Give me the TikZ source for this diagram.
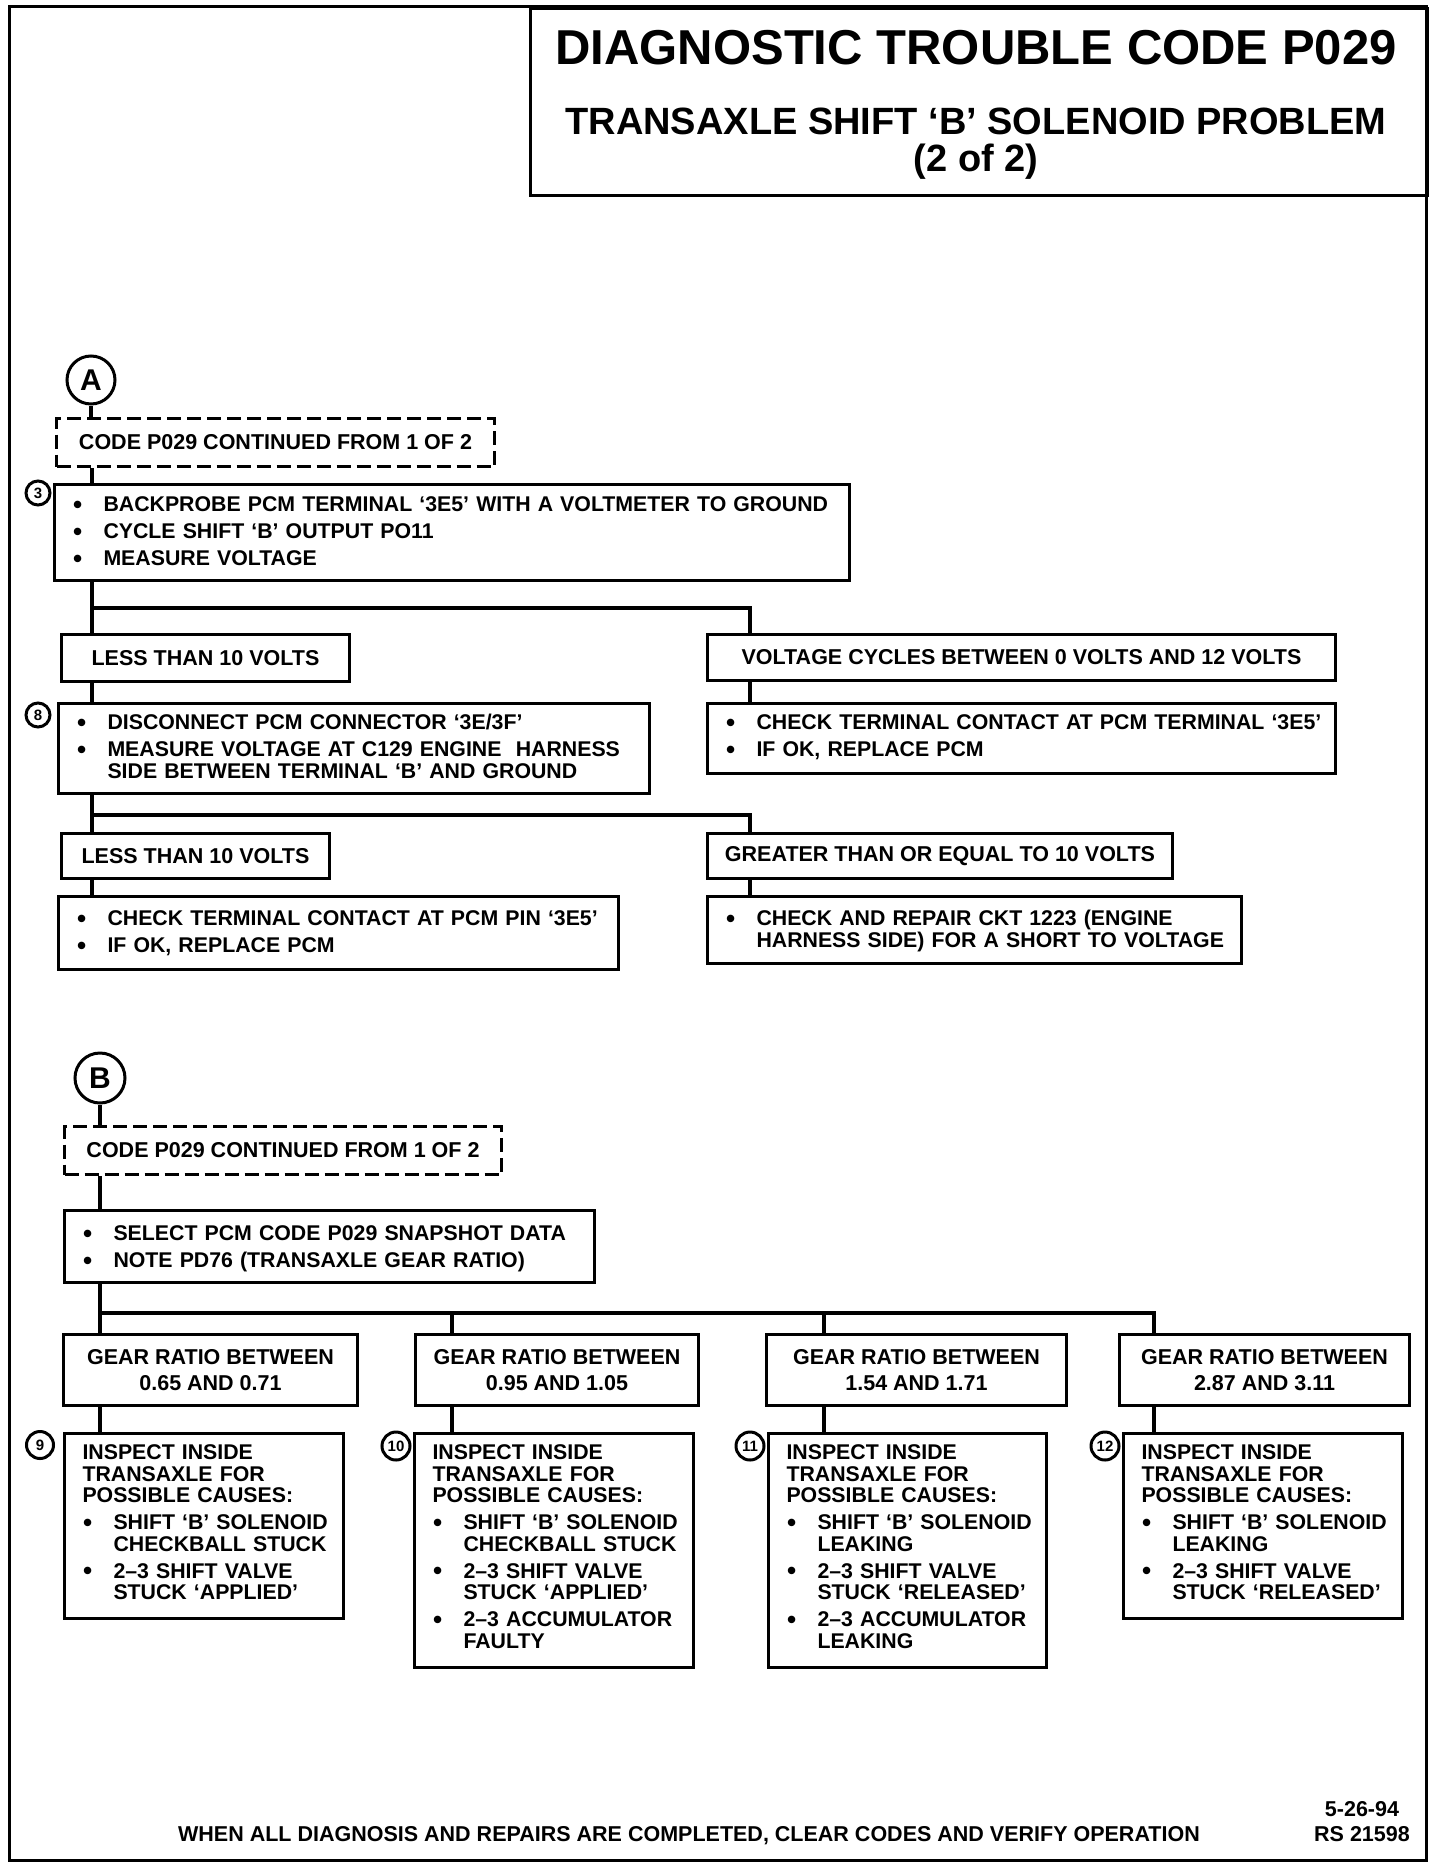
\documentclass[tikz,border=0pt]{standalone}
\usepackage{graphicx}
\usepackage{fontspec}
\setmainfont{Liberation Sans}
\newcommand{\bigbul}{\raisebox{-1.7pt}{\fontsize{26pt}{26pt}\selectfont\textbullet}}
\newcommand{\bul}[1]{\hangindent=31pt\hangafter=1\noindent\makebox[31pt][l]{\hspace{0.5pt}\bigbul}#1\par}
\begin{document}
\begin{tikzpicture}[x=1pt,y=-1pt,
  txt/.style={font=\fontsize{21.5pt}{21.5pt}\selectfont\bfseries},
  box/.style={txt, draw, line width=3pt, anchor=north west, inner sep=0pt, align=center},
  lbox/.style={box, align=left, inner xsep=18pt, inner ysep=0pt, font=\fontsize{21.3pt}{21.5pt}\selectfont\bfseries\setlength{\parskip}{5.5pt}\setlength{\parindent}{0pt}},
  dbox/.style={box, dash pattern=on 14pt off 6pt},
  conn/.style={line width=4pt},
  big/.style={circle, draw, line width=3pt, inner sep=0pt, minimum size=48pt, font=\fontsize{30pt}{30pt}\selectfont\bfseries},
  num/.style={circle, draw, line width=3pt, inner sep=0pt, minimum size=24pt, font=\fontsize{15pt}{15pt}\selectfont\bfseries},
  ttl/.style={anchor=base, font=\fontsize{49pt}{49pt}\selectfont\bfseries},
  sttl/.style={anchor=base, font=\fontsize{38pt}{38pt}\selectfont\bfseries},
]
\useasboundingbox (0,0) rectangle (1440,1870);
\draw[line width=3pt] (9,7) rectangle (1426,1860);

% title
\node[draw, line width=3pt, anchor=north west, minimum width=897pt, minimum height=187pt, inner sep=0pt] (tbox) at (529,7) {};
\node[ttl] (t1) at (976,65) {DIAGNOSTIC TROUBLE CODE P029};
\node[sttl] (t2) at (976,135) {TRANSAXLE SHIFT ‘B’ SOLENOID PROBLEM};
\node[sttl] (t3) at (976,172) {(2 of 2)};

% section A
\node[big] (cA) at (91,380) {A};
\node[dbox, minimum width=438pt, minimum height=48pt] (dA) at (55,417) {CODE P029 CONTINUED FROM 1 OF 2};
\node[lbox, text width=759pt, text height=27pt, text depth=69pt] (b3) at (53,483)
  {\bul{\mbox{BACKPROBE PCM TERMINAL ‘3E5’ WITH A VOLTMETER TO GROUND}}\bul{\mbox{CYCLE SHIFT ‘B’ OUTPUT PO11}}\bul{\mbox{MEASURE VOLTAGE}}};
\node[num] (n3) at (38,493) {3};
\node[box, minimum width=288pt, minimum height=47pt] (L1) at (60,633) {LESS THAN 10 VOLTS};
\node[box, minimum width=628pt, minimum height=46pt] (R1) at (706,633) {VOLTAGE CYCLES BETWEEN 0 VOLTS AND 12 VOLTS};
\node[lbox, text width=555pt, text height=26pt, text depth=64pt] (b8) at (57,702)
  {\bul{\mbox{DISCONNECT PCM CONNECTOR ‘3E/3F’}}\bul{\mbox{MEASURE VOLTAGE AT C129 ENGINE\ \ HARNESS}\newline\mbox{SIDE BETWEEN TERMINAL ‘B’ AND GROUND}}};
\node[num] (n8) at (38,715) {8};
\node[lbox, text width=592pt, text height=26pt, text depth=44pt] (R2) at (706,702)
  {\bul{\mbox{CHECK TERMINAL CONTACT AT PCM TERMINAL ‘3E5’}}\bul{\mbox{IF OK, REPLACE PCM}}};
\node[box, minimum width=268pt, minimum height=45pt] (L3) at (60,832) {LESS THAN 10 VOLTS};
\node[box, minimum width=465pt, minimum height=45pt] (R3) at (706,832) {GREATER THAN OR EQUAL TO 10 VOLTS};
\node[lbox, text width=524pt, text height=29pt, text depth=44pt] (L4) at (57,895)
  {\bul{\mbox{CHECK TERMINAL CONTACT AT PCM PIN ‘3E5’}}\bul{\mbox{IF OK, REPLACE PCM}}};
\node[lbox, text width=498pt, text height=29pt, text depth=38pt] (R4) at (706,895)
  {\bul{\mbox{CHECK AND REPAIR CKT 1223 (ENGINE}\newline\mbox{HARNESS SIDE) FOR A SHORT TO VOLTAGE}}};

\coordinate (ta) at (92,0);
\coordinate (tr) at (750,0);
\coordinate (j1) at (92,608);
\coordinate (j2) at (92,815);
\draw[conn] (cA.south) -- (cA.south |- dA.north);
\draw[conn] (dA.south -| ta) -- (b3.north -| ta);
\draw[conn] (b3.south -| ta) -- (L1.north -| ta);
\draw[conn] (j1) -| (R1.north -| tr);
\draw[conn] (L1.south -| ta) -- (b8.north -| ta);
\draw[conn] (R1.south -| tr) -- (R2.north -| tr);
\draw[conn] (b8.south -| ta) -- (L3.north -| ta);
\draw[conn] (j2) -| (R3.north -| tr);
\draw[conn] (L3.south -| ta) -- (L4.north -| ta);
\draw[conn] (R3.south -| tr) -- (R4.north -| tr);

% section B
\node[big, minimum size=50pt] (cB) at (100,1078) {B};
\node[dbox, minimum width=437pt, minimum height=48pt] (dB) at (63,1125) {CODE P029 CONTINUED FROM 1 OF 2};
\node[lbox, text width=494pt, text height=30pt, text depth=42pt] (SEL) at (63,1209)
  {\bul{\mbox{SELECT PCM CODE P029 SNAPSHOT DATA}}\bul{\mbox{NOTE PD76 (TRANSAXLE GEAR RATIO)}}};
\node[box, minimum width=294pt, minimum height=71pt] (G1) at (62,1333) {GEAR RATIO BETWEEN\\[4pt]0.65 AND 0.71};
\node[box, minimum width=283pt, minimum height=71pt] (G2) at (414,1333) {GEAR RATIO BETWEEN\\[4pt]0.95 AND 1.05};
\node[box, minimum width=300pt, minimum height=71pt] (G3) at (765,1333) {GEAR RATIO BETWEEN\\[4pt]1.54 AND 1.71};
\node[box, minimum width=290pt, minimum height=71pt] (G4) at (1118,1333) {GEAR RATIO BETWEEN\\[4pt]2.87 AND 3.11};

\node[lbox, text width=243pt, text height=26pt, text depth=159pt] (I9) at (63,1432)
  {\mbox{INSPECT INSIDE}\newline\mbox{TRANSAXLE FOR}\newline\mbox{POSSIBLE CAUSES:}\par
   \bul{\mbox{SHIFT ‘B’ SOLENOID}\newline\mbox{CHECKBALL STUCK}}%
   \bul{\mbox{2–3 SHIFT VALVE}\newline\mbox{STUCK ‘APPLIED’}}};
\node[lbox, text width=243pt, text height=26pt, text depth=208pt] (I10) at (413,1432)
  {\mbox{INSPECT INSIDE}\newline\mbox{TRANSAXLE FOR}\newline\mbox{POSSIBLE CAUSES:}\par
   \bul{\mbox{SHIFT ‘B’ SOLENOID}\newline\mbox{CHECKBALL STUCK}}%
   \bul{\mbox{2–3 SHIFT VALVE}\newline\mbox{STUCK ‘APPLIED’}}%
   \bul{\mbox{2–3 ACCUMULATOR}\newline\mbox{FAULTY}}};
\node[lbox, text width=242pt, text height=26pt, text depth=208pt] (I11) at (767,1432)
  {\mbox{INSPECT INSIDE}\newline\mbox{TRANSAXLE FOR}\newline\mbox{POSSIBLE CAUSES:}\par
   \bul{\mbox{SHIFT ‘B’ SOLENOID}\newline\mbox{LEAKING}}%
   \bul{\mbox{2–3 SHIFT VALVE}\newline\mbox{STUCK ‘RELEASED’}}%
   \bul{\mbox{2–3 ACCUMULATOR}\newline\mbox{LEAKING}}};
\node[lbox, text width=243pt, text height=26pt, text depth=159pt] (I12) at (1122,1432)
  {\mbox{INSPECT INSIDE}\newline\mbox{TRANSAXLE FOR}\newline\mbox{POSSIBLE CAUSES:}\par
   \bul{\mbox{SHIFT ‘B’ SOLENOID}\newline\mbox{LEAKING}}%
   \bul{\mbox{2–3 SHIFT VALVE}\newline\mbox{STUCK ‘RELEASED’}}};
\node[num, minimum size=27pt] (n9) at (40,1445) {9};
\node[num, minimum size=28pt] (n10) at (396,1446) {10};
\node[num, minimum size=28pt] (n11) at (750,1446) {11};
\node[num, minimum size=28pt] (n12) at (1105,1446) {12};

\coordinate (j3) at (100,1313);
\coordinate (d2) at (452,0);
\coordinate (d3) at (824,0);
\coordinate (d4) at (1154,0);
\draw[conn] (cB.south) -- (cB.south |- dB.north);
\draw[conn] (dB.south -| cB) -- (SEL.north -| cB);
\draw[conn] (SEL.south -| cB) -- (G1.north -| cB);
\draw[conn] (j3) -| (G4.north -| d4);
\draw[conn] (j3 -| d2) -- (G2.north -| d2);
\draw[conn] (j3 -| d3) -- (G3.north -| d3);
\draw[conn] (G1.south -| cB) -- (I9.north -| cB);
\draw[conn] (G2.south -| d2) -- (I10.north -| d2);
\draw[conn] (G3.south -| d3) -- (I11.north -| d3);
\draw[conn] (G4.south -| d4) -- (I12.north -| d4);

% footer
\node[txt, anchor=base] (foot) at (689,1841) {WHEN ALL DIAGNOSIS AND REPAIRS ARE COMPLETED, CLEAR CODES AND VERIFY OPERATION};
\node[txt, anchor=base] (date) at (1362,1816) {5-26-94};
\node[txt, anchor=base] (rs) at (1362,1841) {RS 21598};
\end{tikzpicture}
\end{document}
